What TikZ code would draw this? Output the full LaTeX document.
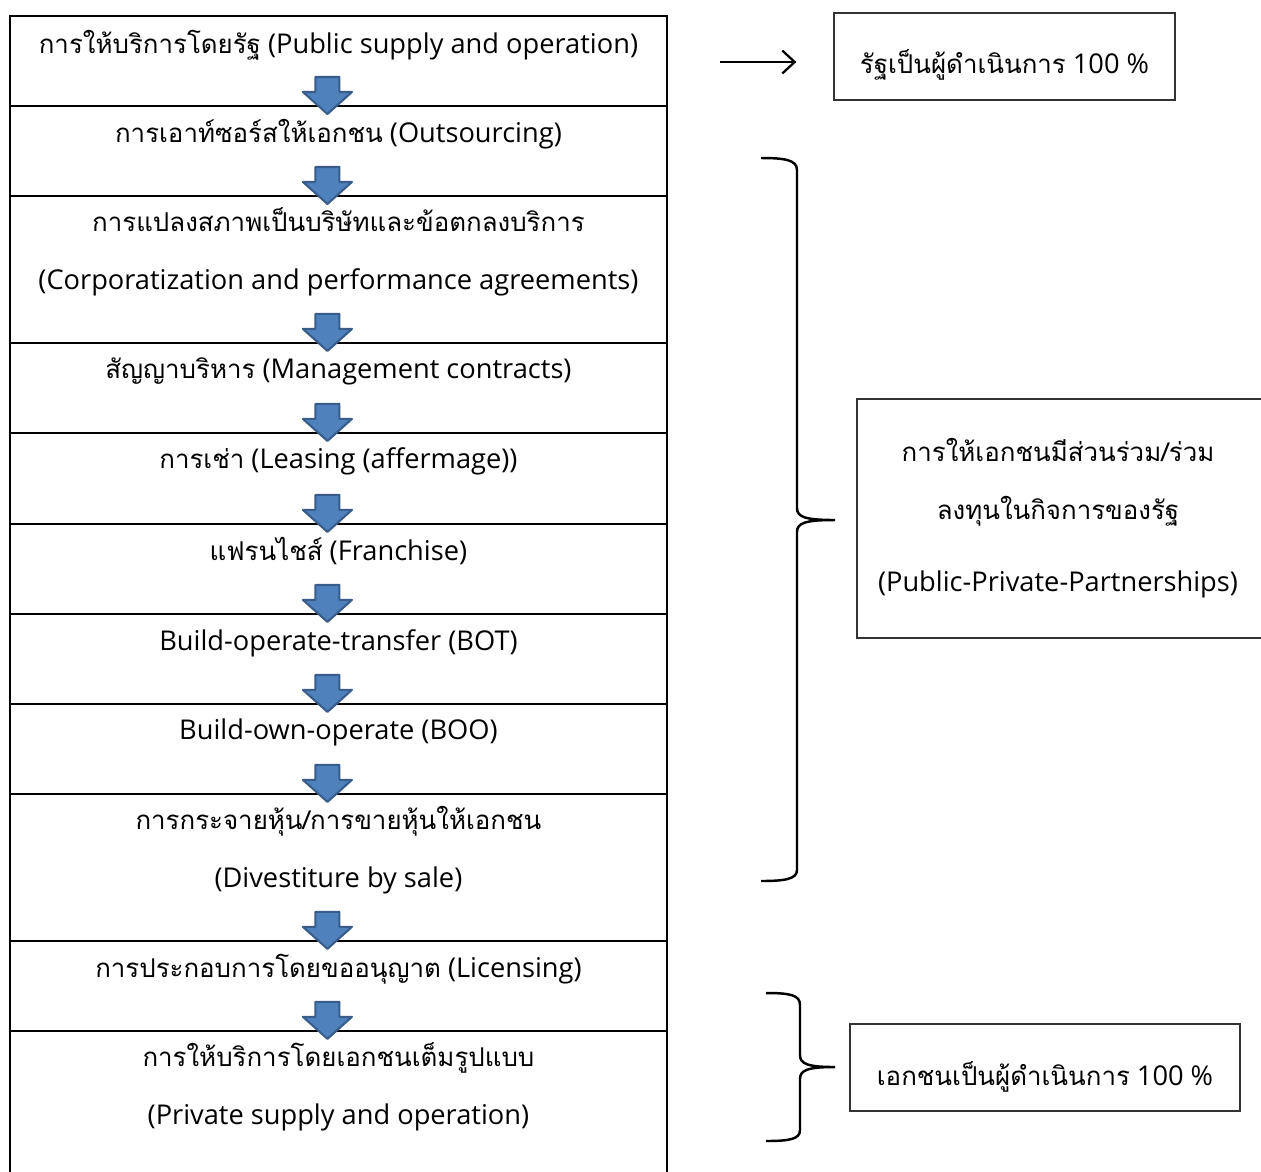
\documentclass[tikz,border=0pt]{standalone}
\usepackage{fontspec}
\setmainfont{Open Sans}
\newfontfamily\thaifont[Script=Thai,Scale=0.95]{Loma}
\newcommand\thai[1]{{\thaifont #1}}
\usetikzlibrary{positioning,arrows.meta}
\definecolor{arrowblue}{HTML}{4F81BD}
\definecolor{arrowedge}{HTML}{385D8A}
\tikzset{
  rowbox/.style={draw, line width=1.5pt, minimum width=13.14cm, inner sep=0pt, outer sep=0pt},
  rowtext/.style={align=center, font=\fontsize{15.5}{33}\selectfont},
  sidebox/.style={draw=black!80, line width=0.8pt, inner sep=0pt},
  bluearrow/.style={fill=arrowblue, draw=arrowedge, line width=1.2pt, line join=round},
  brace/.style={line width=1.4pt},
  thinarrow/.style={line width=1.3pt, -{Straight Barb[length=7pt,width=13pt]}}
}
\begin{document}
\begin{tikzpicture}[x=0.02cm, y=-0.02cm]
  \clip (0,0) rectangle (1261,1171);
  \fill[white] (0,0) rectangle (1261,1171);
  % the ladder of rows
  \node[rowbox, minimum height=1.8cm, anchor=north west] (r1) at (10,16) {};
  \node[rowbox, minimum height=1.8cm, below=0pt of r1] (r2) {};
  \node[rowbox, minimum height=2.94cm, below=0pt of r2] (r3) {};
  \node[rowbox, minimum height=1.8cm, below=0pt of r3] (r4) {};
  \node[rowbox, minimum height=1.82cm, below=0pt of r4] (r5) {};
  \node[rowbox, minimum height=1.8cm, below=0pt of r5] (r6) {};
  \node[rowbox, minimum height=1.8cm, below=0pt of r6] (r7) {};
  \node[rowbox, minimum height=1.8cm, below=0pt of r7] (r8) {};
  \node[rowbox, minimum height=2.94cm, below=0pt of r8] (r9) {};
  \node[rowbox, minimum height=1.8cm, below=0pt of r9] (r10) {};
  \node[rowbox, minimum height=3.3cm, below=0pt of r10] (r11) {};
  \node[rowtext] (t1) at ([yshift=-0.58cm]r1.north) {\thai{การให้บริการโดยรัฐ} (Public supply and operation)};
  \node[rowtext] (t2) at ([yshift=-0.56cm]r2.north) {\thai{การเอาท์ซอร์สให้เอกชน} (Outsourcing)};
  \node[rowtext] (t3) at ([yshift=-1.12cm]r3.north) {\thai{การแปลงสภาพเป็นบริษัทและข้อตกลงบริการ}\\(Corporatization and performance agreements)};
  \node[rowtext] (t4) at ([yshift=-0.56cm]r4.north) {\thai{สัญญาบริหาร} (Management contracts)};
  \node[rowtext] (t5) at ([yshift=-0.56cm]r5.north) {\thai{การเช่า} (Leasing (affermage))};
  \node[rowtext] (t6) at ([yshift=-0.54cm]r6.north) {\thai{แฟรนไชส์} (Franchise)};
  \node[rowtext] (t7) at ([yshift=-0.58cm]r7.north) {Build-operate-transfer (BOT)};
  \node[rowtext] (t8) at ([yshift=-0.58cm]r8.north) {Build-own-operate (BOO)};
  \node[rowtext] (t9) at ([yshift=-1.12cm]r9.north) {\thai{การกระจายหุ้น/การขายหุ้นให้เอกชน}\\(Divestiture by sale)};
  \node[rowtext] (t10) at ([yshift=-0.56cm]r10.north) {\thai{การประกอบการโดยขออนุญาต} (Licensing)};
  \node[rowtext] (t11) at ([yshift=-1.12cm]r11.north) {\thai{การให้บริการโดยเอกชนเต็มรูปแบบ}\\(Private supply and operation)};
  % blue arrows on the borders
  \foreach \r in {r1,r2,r3,r4,r5,r6,r7,r8,r9,r10}
    \draw[bluearrow] ([xshift=-0.22cm, yshift=-0.16cm]\r.south) -- ++(-24.5,-22) -- ++(12.5,0)
      -- ++(0,-15) -- ++(24,0) -- ++(0,15) -- ++(12.5,0) -- cycle;
  % boxes on the right
  \node[sidebox, minimum width=6.82cm, minimum height=1.74cm] (s1) at (1004.5,56.5) {};
  \node[rowtext] (u1) at (1004.5,65) {\thai{รัฐเป็นผู้ดำเนินการ} 100 \%};
  \node[sidebox, minimum width=8.46cm, minimum height=4.78cm] (s2) at (1068.5,518.5) {};
  \node[rowtext] (u2) at (1058,518) {\thai{การให้เอกชนมีส่วนร่วม/ร่วม}\\\thai{ลงทุนในกิจการของรัฐ}\\[0.28cm](Public-Private-Partnerships)};
  \node[sidebox, minimum width=7.8cm, minimum height=1.74cm] (s3) at (1045,1067.5) {};
  \node[rowtext] (u3) at (1045,1077) {\thai{เอกชนเป็นผู้ดำเนินการ} 100 \%};
  \coordinate (a1) at (720,62);
  \draw[thinarrow, shorten >=0.74cm] (a1) -- (s1.west |- a1);
  % braces
  \draw[brace] (761,158) .. controls (785,158) and (797,160) .. (797,170) -- (797,508)
    .. controls (797,517) and (805,520) .. (835,520) .. controls (805,520) and (797,523) .. (797,532)
    -- (797,870) .. controls (797,879) and (785,881) .. (761,881);
  \draw[brace] (766,993) .. controls (790,993) and (800,995) .. (800,1005) -- (800,1055)
    .. controls (800,1064) and (808,1067) .. (835,1067) .. controls (808,1067) and (800,1070) .. (800,1079)
    -- (800,1130) .. controls (800,1139) and (790,1141) .. (766,1141);
\end{tikzpicture}
\end{document}
